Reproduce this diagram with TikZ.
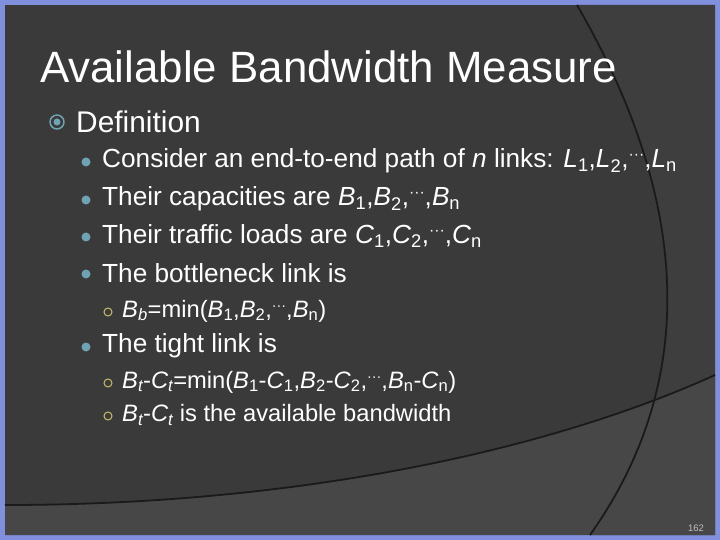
\documentclass[tikz,border=0pt]{standalone}
\usepackage{fontspec}
\setmainfont{Liberation Sans}
\usepackage{graphicx}
\definecolor{frame}{HTML}{8090DC}
\definecolor{bg}{HTML}{3A3A3A}
\definecolor{bgr}{HTML}{3E3E3E}
\definecolor{bgl}{HTML}{474747}
\definecolor{teal}{HTML}{6FA3B3}
\definecolor{olive}{HTML}{C8BE6A}
\newcommand{\sbs}[1]{\textsubscript{#1}}
\newcommand{\cds}{\raisebox{0.3em}{\scalebox{0.6}{\textperiodcentered\textperiodcentered\textperiodcentered}}}
\begin{document}
\begin{tikzpicture}[x=1bp,y=-1bp,
  lvone/.style={anchor=west,text=white,font=\fontsize{30}{32}\selectfont,inner sep=0},
  lvtwo/.style={anchor=west,text=white,font=\fontsize{26.3}{28}\selectfont,inner sep=0},
  lvthree/.style={anchor=west,text=white,font=\fontsize{23.8}{26}\selectfont,inner sep=0},
  curve/.style={draw=black!55!bg,line width=1.8}]
\useasboundingbox (0,0) rectangle (720,540);
\fill[frame] (0,0) rectangle (720,540);
\fill[bg] (5,5) rectangle (715,535);
\fill[bgr] (577,5) .. controls (690,200) and (700,380) .. (590,535) -- (715,535) -- (715,5) -- cycle;
\fill[bgl] (5,505) .. controls (300,505) and (550,450) .. (715,375) -- (715,535) -- (5,535) -- cycle;
\draw[curve] (577,5) .. controls (690,200) and (700,380) .. (590,535);
\draw[curve] (5,505) .. controls (300,505) and (550,450) .. (715,375);
\node[anchor=base west,text=white,font=\fontsize{44}{46}\selectfont,inner sep=0] (title) at (40,83) {Available Bandwidth Measure};
% level 1
\node[circle,draw=teal,line width=1.5,minimum size=14,inner sep=0] (b1) at (57,122) {};
\fill[teal] (b1) circle (3.5);
\node[lvone] (def) at (76,122) {Definition};
% level 2
\foreach \y in {161,199,236,273,346}{\fill[teal] (86,\y+1) circle (4.5);}
\node[lvtwo] (l1) at (102,161) {Consider an end-to-end path of \textit{n} links: \textit{L}\sbs{1},\textit{L}\sbs{2},\cds,\textit{L}\sbs{n}};
\node[lvtwo] (l2) at (102,199) {Their capacities are \textit{B}\sbs{1},\textit{B}\sbs{2},\cds,\textit{B}\sbs{n}};
\node[lvtwo] (l3) at (102,236) {Their traffic loads are \textit{C}\sbs{1},\textit{C}\sbs{2},\cds,\textit{C}\sbs{n}};
\node[lvtwo] (l4) at (102,273) {The bottleneck link is};
\node[lvtwo] (l5) at (102,346) {The tight link is};
% level 3
\foreach \y in {312,383,416}{\draw[olive,line width=1] (108,\y) circle (4);}
\node[lvthree] (m1) at (122,311) {\textit{B\sbs{b}}=min(\textit{B}\sbs{1},\textit{B}\sbs{2},\cds,\textit{B}\sbs{n})};
\node[lvthree] (m2) at (122,382) {\textit{B\sbs{t}}-\textit{C\sbs{t}}=min(\textit{B}\sbs{1}-\textit{C}\sbs{1},\textit{B}\sbs{2}-\textit{C}\sbs{2},\cds,\textit{B}\sbs{n}-\textit{C}\sbs{n})};
\node[lvthree] (m3) at (122,415) {\textit{B\sbs{t}}-\textit{C\sbs{t}} is the available bandwidth};
\node[text=white!75!black,font=\fontsize{9.5}{10}\selectfont,inner sep=0] (pg) at (696,528) {162};
\end{tikzpicture}
\end{document}
